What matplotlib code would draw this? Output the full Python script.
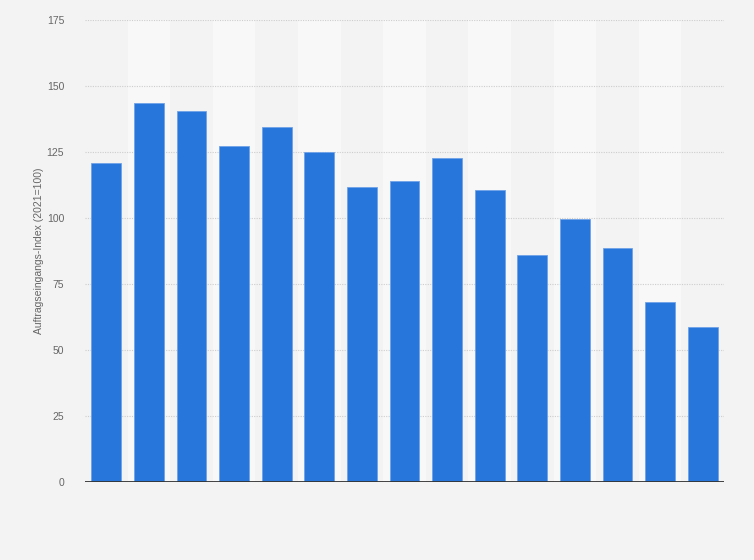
import numpy as np
import matplotlib
matplotlib.use("Agg")
import matplotlib.pyplot as plt

plt.rcParams["font.family"] = ["Liberation Sans", "DejaVu Sans"]

# Auftragseingangs-Index (2021=100), bar values
werte = [120.9, 143.7, 140.6, 127.3, 134.6, 125.1, 111.8, 114.1, 122.9,
         110.7, 86.1, 99.8, 88.7, 68.3, 58.9]
y_ticks = [0, 25, 50, 75, 100, 125, 150, 175]
y_label = "Auftragseingangs-Index (2021=100)"

bg = "#f3f3f3"
fig = plt.figure(figsize=(7.54, 5.6), dpi=100, facecolor=bg)
ax = fig.add_axes([85 / 754, 1 - 482 / 560, 639 / 754, 462 / 560])
ax.set_facecolor(bg)

x = np.arange(len(werte))

# light alternating column bands
for i in x:
    if i % 2 == 1:
        ax.axvspan(i - 0.5, i + 0.5, color="#f8f8f8", zorder=0, lw=0)

for t in y_ticks[1:]:
    ax.axhline(t, color="#cdcdcd", lw=0.8, ls=(0, (1, 1.2)), zorder=1)

ax.bar(x, werte, width=0.70, color="#2776dc", edgecolor="#6fa2e8",
       linewidth=0.6, zorder=2)
ax.axhline(0, color="#333333", lw=1.3, zorder=3)

ax.set_xlim(-0.5, len(werte) - 0.5)
ax.set_ylim(0, 175)
ax.set_yticks(y_ticks)
ax.set_yticklabels([str(t) for t in y_ticks])
ax.set_xticks([])
ax.tick_params(axis="y", length=0, pad=15, labelsize=7.5, labelcolor="#666666")

for s in ax.spines.values():
    s.set_visible(False)

ax.set_ylabel(y_label, fontsize=7.5, color="#666666")
ax.yaxis.set_label_coords(-0.064, 0.5)

fig.savefig("out.png", dpi=100, facecolor=bg)
